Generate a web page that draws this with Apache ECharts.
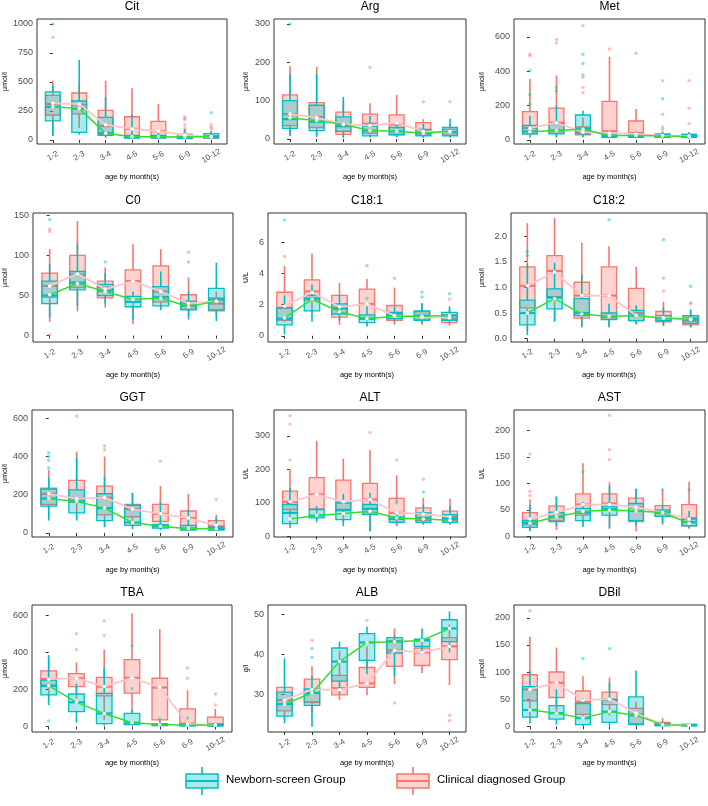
<!DOCTYPE html>
<html><head><meta charset="utf-8">
<script src="https://cdn.jsdelivr.net/npm/echarts@6/dist/echarts.min.js"></script>
<style>html,body{margin:0;padding:0;background:#fff}#c{width:708px;height:806px}</style>
</head><body><div id="c"></div>
<script>
const categories = ['1-2','2-3','3-4','4-5','5-6','6-9','10-12'];
const groupNames = ['Newborn-screen Group','Clinical diagnosed Group'];
// each box: [min, Q1, median, Q3, max]; outliers: [categoryIndex, value]
// Cit
const citN = [[35,165,285,415,470],[45,66,270,336,690],[20,40,60,195,370],[10,15,25,40,220],[10,15,25,40,60],[8,12,20,30,50],[8,18,30,55,80]];
const citC = [[40,215,310,385,510],[105,225,305,405,480],[20,45,120,255,510],[10,30,95,200,445],[10,35,75,160,310],[8,15,25,50,95],[8,15,22,35,60]];
const citNMean = [287,272,57,28,28,25,30];
const citCMean = [316,310,130,95,75,43,25];
const citNOut = [[0,1000],[5,60],[5,80],[6,235]];
const citCOut = [[0,885],[5,200],[5,185],[5,175],[5,130],[5,100],[6,130],[6,110],[6,95]];
const citTicks = [0,250,500,750,1000];
// Arg
const argN = [[8,28,52,100,170],[8,22,45,88,170],[3,20,35,58,110],[4,8,22,33,60],[5,12,20,30,45],[3,8,15,25,40],[3,8,18,30,53]];
const argC = [[10,35,65,115,190],[5,30,57,95,188],[5,12,33,70,100],[5,15,40,65,93],[5,10,38,63,115],[4,10,22,43,52],[5,10,18,25,40]];
const argNMean = [55,48,38,22,20,15,20];
const argCMean = [65,56,38,35,42,20,18];
const argNOut = [[0,300]];
const argCOut = [[3,187],[5,97],[6,97]];
const argTicks = [0,100,200,300];
// Met
const metN = [[15,35,50,85,140],[15,35,55,95,200],[15,35,65,145,170],[10,15,22,35,50],[10,15,22,35,50],[8,15,22,32,45],[8,15,22,32,45]];
const metC = [[15,35,70,165,355],[15,38,100,185,375],[15,30,45,75,130],[15,35,50,225,485],[12,30,40,110,180],[8,15,25,35,50],[8,15,22,32,45]];
const metNMean = [48,55,62,25,25,22,20];
const metCMean = [68,100,45,40,35,25,22];
const metNOut = [[0,405],[0,265],[0,210],[1,305],[1,285],[2,500],[2,445],[2,380],[5,240]];
const metCOut = [[0,500],[0,490],[1,585],[1,565],[2,665],[2,365],[2,305],[2,275],[3,530],[4,505],[5,345],[5,150],[5,75],[5,60],[6,345],[6,185],[6,95]];
const metTicks = [0,200,400,600];
// C0
const c0N = [[22,40,50,68,90],[37,57,66,80,115],[40,50,56,64,78],[20,36,42,49,55],[32,37,48,61,80],[20,32,37,43,55],[18,32,45,59,91]];
const c0C = [[17,48,62,78,108],[30,60,76,100,143],[35,47,60,68,85],[14,42,68,82,114],[33,42,55,87,108],[25,33,40,51,70],[25,31,40,47,55]];
const c0NMean = [51,65,55,45,47,36,43];
const c0CMean = [62,77,58,68,55,40,43];
const c0NOut = [[0,145],[2,92],[5,92],[5,71]];
const c0COut = [[0,133],[0,130],[0,1],[5,104]];
const c0Ticks = [0,50,100,150];
// C18:1
const c181N = [[0.1,0.7,1.1,1.8,2.6],[0.9,1.6,2.4,2.6,3.3],[1.0,1.4,1.75,2.05,2.6],[0.6,0.85,1.1,1.35,1.9],[0.9,1.1,1.3,1.5,1.9],[0.8,1.0,1.3,1.6,2.1],[0.8,1.0,1.3,1.5,1.9]];
const c181C = [[0.9,1.0,1.8,2.8,4.5],[1.5,2.3,2.85,3.6,5.3],[0.7,1.2,1.8,2.6,3.4],[0.7,1.05,2.05,3.0,3.65],[0.7,1.0,1.4,1.95,3.1],[0.7,1.0,1.2,1.55,2.1],[0.65,0.85,1.1,1.35,1.7]];
const c181NMean = [1.15,2.35,1.55,1.1,1.25,1.25,1.3];
const c181CMean = [1.9,2.8,1.85,2.05,1.3,1.2,1.15];
const c181NOut = [[0,7.45],[3,4.5],[3,2.4],[5,2.8],[5,2.5],[6,2.7]];
const c181COut = [[0,5.1],[4,3.7],[6,2.35]];
const c181Ticks = [0,2,4,6];
// C18:2
const c182N = [[0.07,0.27,0.5,0.75,1.45],[0.33,0.58,0.8,0.97,1.48],[0.22,0.45,0.5,0.78,1.25],[0.22,0.37,0.43,0.5,0.68],[0.28,0.35,0.45,0.55,0.65],[0.25,0.35,0.4,0.45,0.6],[0.22,0.3,0.38,0.45,0.57]];
const c182C = [[0.15,0.6,1.03,1.4,2.25],[0.35,0.82,1.32,1.62,2.35],[0.25,0.4,0.84,1.1,1.87],[0.25,0.38,0.84,1.4,1.8],[0.28,0.35,0.5,0.98,1.4],[0.25,0.33,0.4,0.53,0.72],[0.22,0.27,0.35,0.42,0.55]];
const c182NMean = [0.5,0.78,0.48,0.43,0.45,0.4,0.38];
const c182CMean = [1.03,1.3,0.84,0.84,0.45,0.41,0.38];
const c182NOut = [[0,1.7],[0,1.62],[3,2.32],[5,1.93],[6,1.02]];
const c182COut = [[5,1.18],[5,0.93],[6,0.7],[6,0.68]];
const c182Ticks = [0,0.5,1,1.5,2];
// GGT
const ggtN = [[65,140,180,230,290],[65,105,165,225,395],[30,65,130,205,295],[20,40,55,145,210],[15,25,35,45,165],[10,15,22,40,120],[10,15,22,30,80]];
const ggtC = [[90,150,205,235,330],[75,160,180,275,425],[40,95,185,245,400],[30,85,125,150,210],[30,60,100,150,245],[15,25,78,115,205],[12,20,35,65,95]];
const ggtNMean = [180,165,130,55,35,22,22];
const ggtCMean = [205,180,185,125,100,78,40];
const ggtNOut = [[0,420],[0,400],[0,380],[0,340]];
const ggtCOut = [[1,610],[2,455],[2,435],[4,375],[6,175]];
const ggtTicks = [0,200,400,600];
// ALT
const altN = [[25,38,70,95,145],[42,55,62,80,90],[30,50,78,102,127],[15,65,82,95,130],[35,42,52,58,75],[35,42,55,70,95],[35,42,52,65,90]];
const altC = [[40,80,103,135,200],[50,82,125,175,285],[40,80,100,168,232],[15,70,110,158,257],[30,50,70,113,182],[35,48,67,85,115],[35,48,58,75,112]];
const altNMean = [52,62,68,75,55,52,48];
const altCMean = [103,125,103,110,70,67,58];
const altNOut = [[4,100],[4,108],[5,132]];
const altCOut = [[0,360],[0,335],[0,228],[3,310],[4,228],[5,170]];
const altTicks = [0,100,200,300];
// AST
const astN = [[10,17,25,30,60],[20,28,37,45,75],[18,30,45,53,65],[15,40,52,57,95],[20,30,48,62,90],[25,38,45,50,60],[15,20,27,35,48]];
const astC = [[12,22,30,45,70],[12,30,45,57,75],[25,40,60,80,138],[15,50,62,80,102],[10,28,55,72,90],[22,38,45,58,88],[15,20,33,60,103]];
const astNMean = [25,37,47,50,48,45,25];
const astCMean = [33,45,60,60,55,45,33];
const astNOut = [[2,122],[5,88],[6,88]];
const astCOut = [[0,155],[0,85],[0,77],[3,228],[3,163],[3,145]];
const astTicks = [0,50,100,150,200];
// TBA
const tbaN = [[115,170,220,250,385],[20,80,130,175,230],[5,15,70,178,315],[5,10,20,70,90],[2,5,10,15,30],[1,3,6,12,25],[1,3,6,12,20]];
const tbaC = [[150,215,255,300,370],[150,215,260,285,345],[35,165,215,265,415],[80,180,262,360,610],[5,35,210,260,525],[2,5,15,95,195],[2,5,12,50,95]];
const tbaNMean = [220,130,70,20,10,6,8];
const tbaCMean = [255,260,215,262,210,14,8];
const tbaNOut = [[0,30],[3,435],[3,205],[4,40],[5,45]];
const tbaCOut = [[1,500],[1,415],[2,570],[2,490],[5,315],[5,260],[6,175],[6,115]];
const tbaTicks = [0,200,400,600];
// ALB
const albN = [[22.7,24.5,27.5,30.5,39],[21.8,27.2,30.3,31.3,34.5],[30,33.3,38.2,41.6,43.2],[35,38.5,43,45.2,47],[34.5,40.3,43.2,44.2,44.8],[40,42,43.5,43.8,46.5],[40.5,43.2,46.5,48.7,50.8]];
const albC = [[23.5,25.8,28.5,31.7,32],[25,28,28,33.8,37],[28.5,29.8,31.5,34.7,41],[29.7,31.7,32.7,36.7,42],[32.5,37,41,43.5,46.5],[35.3,37.2,40.5,41.6,44],[32.3,38.7,42,44.2,47.5]];
const albNMean = [27.5,30.3,38.2,43,43.2,43.5,46.5];
const albCMean = [28.5,31.2,31.1,32.7,41,40.5,42];
const albNOut = [[1,41.5],[1,39.2]];
const albCOut = [[1,43.5],[3,48.5],[4,27.8],[6,24.7],[6,23.3]];
const albTicks = [30,40,50];
// DBil
const dbilN = [[5,17,30,73,102],[3,13,24,38,68],[0,3,15,42,52],[0,7,27,50,82],[0,3,20,54,103],[0,1,2,5,8],[0,1,2,3,5]];
const dbilC = [[15,47,68,95,165],[20,53,80,100,145],[15,22,45,65,92],[20,40,48,63,90],[2,5,22,33,45],[0,2,3,7,15],[0,1,2,4,6]];
const dbilNMean = [30,24,15,27,20,3,2];
const dbilCMean = [68,80,48,50,24,3,2];
const dbilNOut = [[2,125],[3,143]];
const dbilCOut = [[0,213]];
const dbilTicks = [0,50,100,150,200];

// panel definitions (data references + axis ranges)
const panels = [
  {title:'Cit', unit:'μmol/l', N:citN, C:citC, NM:citNMean, CM:citCMean, NO:citNOut, CO:citCOut, ticks:citTicks, min:-35, max:1043},
  {title:'Arg', unit:'μmol/l', N:argN, C:argC, NM:argNMean, CM:argCMean, NO:argNOut, CO:argCOut, ticks:argTicks, min:-13, max:313},
  {title:'Met', unit:'μmol/l', N:metN, C:metC, NM:metNMean, CM:metCMean, NO:metNOut, CO:metCOut, ticks:metTicks, min:-24, max:705},
  {title:'C0', unit:'μmol/l', N:c0N, C:c0C, NM:c0NMean, CM:c0CMean, NO:c0NOut, CO:c0COut, ticks:c0Ticks, min:-8, max:153},
  {title:'C18:1', unit:'U/L', N:c181N, C:c181C, NM:c181NMean, CM:c181CMean, NO:c181NOut, CO:c181COut, ticks:c181Ticks, min:-0.4, max:7.9},
  {title:'C18:2', unit:'μmol/l', N:c182N, C:c182C, NM:c182NMean, CM:c182CMean, NO:c182NOut, CO:c182COut, ticks:c182Ticks, min:-0.065, max:2.45, dec:1},
  {title:'GGT', unit:'μmol/l', N:ggtN, C:ggtC, NM:ggtNMean, CM:ggtCMean, NO:ggtNOut, CO:ggtCOut, ticks:ggtTicks, min:-21, max:643},
  {title:'ALT', unit:'U/L', N:altN, C:altC, NM:altNMean, CM:altCMean, NO:altNOut, CO:altCOut, ticks:altTicks, min:-2, max:377},
  {title:'AST', unit:'U/L', N:astN, C:astC, NM:astNMean, CM:astCMean, NO:astNOut, CO:astCOut, ticks:astTicks, min:-1, max:238},
  {title:'TBA', unit:'μmol/l', N:tbaN, C:tbaC, NM:tbaNMean, CM:tbaCMean, NO:tbaNOut, CO:tbaCOut, ticks:tbaTicks, min:-30, max:655},
  {title:'ALB', unit:'g/l', N:albN, C:albC, NM:albNMean, CM:albCMean, NO:albNOut, CO:albCOut, ticks:albTicks, min:20.5, max:52.4},
  {title:'DBil', unit:'μmol/l', N:dbilN, C:dbilC, NM:dbilNMean, CM:dbilCMean, NO:dbilNOut, CO:dbilCOut, ticks:dbilTicks, min:-10.6, max:223.6}
];

// layout (pixel boxes of each panel: left, top, right, bottom)
const boxesPx = [
  [37,19,227,144],[274,19,466,144],[514,19,705,144],
  [33,213,233,342],[268,213,466,342],[511,213,707,342],
  [32,410,233,537],[274,410,466,537],[514,410,705,537],
  [32,605,232,732],[268,605,466,732],[514,605,705,732]
];
const nameXcol = [5,246,482];

const TEAL = '#00BFC4', RED = '#F8766D';
const TEAL_FILL = 'rgba(0,191,196,0.33)', RED_FILL = 'rgba(248,118,109,0.33)';
const GREEN_LINE = '#2fe02f', PINK_LINE = '#ffc4cc';
const BOX_W = 0.56;
const FONT = 'Liberation Sans, Arial, sans-serif';

function boxRender(stroke, fill) {
  return function (params, api) {
    const x = api.value(0);
    const lo = api.coord([x, api.value(1)]);
    const q1 = api.coord([x, api.value(2)]);
    const md = api.coord([x, api.value(3)]);
    const q3 = api.coord([x, api.value(4)]);
    const hi = api.coord([x, api.value(5)]);
    const hw = api.size([BOX_W, 0])[0] / 2;
    const cx = lo[0];
    return {type:'group', children:[
      {type:'line', shape:{x1:cx,y1:q3[1],x2:cx,y2:hi[1]}, style:{stroke:stroke, lineWidth:1.6}},
      {type:'line', shape:{x1:cx,y1:q1[1],x2:cx,y2:lo[1]}, style:{stroke:stroke, lineWidth:1.6}},
      {type:'rect', shape:{x:cx-hw,y:q3[1],width:2*hw,height:q1[1]-q3[1]}, style:{fill:fill, stroke:stroke, lineWidth:1.3}},
      {type:'line', shape:{x1:cx-hw,y1:md[1],x2:cx+hw,y2:md[1]}, style:{stroke:stroke, lineWidth:2.2}}
    ]};
  };
}

const grids = [], xAxes = [], yAxes = [], series = [], titles = [];
const catIdx = categories.map((c,i)=>i);
panels.forEach((p, k) => {
  const b = boxesPx[k];
  const col = k % 3;
  grids.push({left:b[0], top:b[1], width:b[2]-b[0], height:b[3]-b[1], show:true,
    borderColor:'#333', borderWidth:1, backgroundColor:'transparent', containLabel:false, outerBoundsMode:'none'});
  titles.push({text:p.title, left:(b[0]+b[2])/2, top:b[1]-18, textAlign:'center', padding:0,
    textStyle:{fontSize:12, fontWeight:'normal', color:'#000', fontFamily:FONT}});
  xAxes.push({gridIndex:k, type:'value', min:-0.6, max:6.6, splitLine:{show:false}, axisLine:{show:false},
    axisTick:{show:true, customValues:catIdx, length:3, lineStyle:{color:'#333'}},
    axisLabel:{customValues:catIdx, formatter:(v)=>categories[Math.round(v)], rotate:30, fontSize:8,
      color:'#4d4d4d', margin:12, align:'center', verticalAlign:'middle', fontFamily:FONT},
    name:'age by month(s)', nameLocation:'middle', nameGap:(k>=9?27:29), nameMoveOverlap:false,
    nameTextStyle:{fontSize:7.5, color:'#000', fontFamily:FONT}});
  yAxes.push({gridIndex:k, type:'value', min:p.min, max:p.max, splitLine:{show:false}, axisLine:{show:false},
    axisTick:{show:true, customValues:p.ticks, length:3, lineStyle:{color:'#333'}},
    axisLabel:{customValues:p.ticks, formatter:(v)=> p.dec ? v.toFixed(p.dec) : String(Math.round(v)),
      fontSize:9, color:'#4d4d4d', margin:4, fontFamily:FONT},
    name:p.unit, nameLocation:'middle', nameRotate:90, nameGap:b[0]-nameXcol[col]-4, nameMoveOverlap:false,
    nameTextStyle:{fontSize:7, color:'#000', fontFamily:FONT}});
  const boxData = (arr) => arr.map((v,i)=>[i].concat(v));
  series.push({type:'custom', xAxisIndex:k, yAxisIndex:k, z:2, renderItem:boxRender(RED, RED_FILL),
    encode:{x:0, y:[1,2,3,4,5]}, data:boxData(p.C), silent:true});
  series.push({type:'custom', xAxisIndex:k, yAxisIndex:k, z:3, renderItem:boxRender(TEAL, TEAL_FILL),
    encode:{x:0, y:[1,2,3,4,5]}, data:boxData(p.N), silent:true});
  series.push({type:'scatter', xAxisIndex:k, yAxisIndex:k, z:4, data:p.CO, symbolSize:3.5,
    itemStyle:{color:RED, opacity:0.45}, silent:true});
  series.push({type:'scatter', xAxisIndex:k, yAxisIndex:k, z:4, data:p.NO, symbolSize:3.5,
    itemStyle:{color:TEAL, opacity:0.45}, silent:true});
  series.push({type:'line', xAxisIndex:k, yAxisIndex:k, z:5, data:p.CM.map((m,i)=>[i,m]),
    symbol:'circle', symbolSize:3.5, itemStyle:{color:'#fff', borderWidth:0},
    lineStyle:{color:PINK_LINE, width:1.8}, silent:true});
  series.push({type:'line', xAxisIndex:k, yAxisIndex:k, z:6, data:p.NM.map((m,i)=>[i,m]),
    symbol:'circle', symbolSize:3.5, itemStyle:{color:'#fff', borderWidth:0},
    lineStyle:{color:GREEN_LINE, width:1.5}, silent:true});
});

// legend glyphs
function legendGlyph(x, y, stroke, fill) {
  return [
    {type:'line', shape:{x1:x+16,y1:y-14,x2:x+16,y2:y-7}, style:{stroke:stroke, lineWidth:1.6}},
    {type:'line', shape:{x1:x+16,y1:y+7,x2:x+16,y2:y+14}, style:{stroke:stroke, lineWidth:1.6}},
    {type:'rect', shape:{x:x,y:y-7,width:32,height:14}, style:{fill:fill, stroke:stroke, lineWidth:1.5}},
    {type:'line', shape:{x1:x,y1:y,x2:x+32,y2:y}, style:{stroke:stroke, lineWidth:2}}
  ];
}
const legendY = 781;
const graphics = []
  .concat(legendGlyph(186, legendY, TEAL, TEAL_FILL))
  .concat([{type:'text', left:226, top:legendY-7, style:{text:groupNames[0], fontSize:11.5, fill:'#000', fontFamily:FONT}}])
  .concat(legendGlyph(397, legendY, RED, RED_FILL))
  .concat([{type:'text', left:437, top:legendY-7, style:{text:groupNames[1], fontSize:11.5, fill:'#000', fontFamily:FONT}}]);

const chart = echarts.init(document.getElementById('c'), null, {renderer:'canvas'});
chart.setOption({
  animation:false,
  backgroundColor:'#fff',
  textStyle:{fontFamily:FONT},
  title:titles,
  grid:grids,
  xAxis:xAxes,
  yAxis:yAxes,
  series:series,
  graphic:graphics
});
</script>
</body></html>
